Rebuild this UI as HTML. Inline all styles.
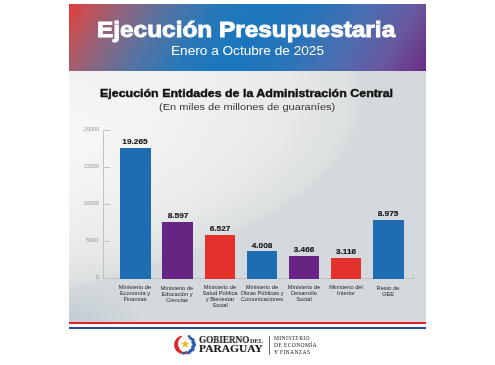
<!DOCTYPE html>
<html><head><meta charset="utf-8">
<style>
html,body{margin:0;padding:0;background:#fff;}
body{width:495px;height:365px;position:relative;overflow:hidden;font-family:"Liberation Sans",sans-serif;}
.abs{position:absolute;white-space:nowrap;}
#card{position:absolute;left:69px;top:4px;width:357px;height:318px;overflow:hidden;
  background:
   radial-gradient(ellipse 110px 70px at 0px 67px, rgba(0,0,0,0.028) 0%, rgba(0,0,0,0) 100%),
   radial-gradient(ellipse 75px 38px at 0px 318px, rgba(194,204,212,1) 0%, rgba(203,211,216,0.9) 55%, rgba(211,217,220,0) 100%),
   radial-gradient(ellipse 700px 234px at -405px 95px, #fbfbfb 50%, #f8f8f7 60%, #f3f3f2 70%, #eeeeed 80%, #e7e8e8 90%, #e0e3e3 95%, #dce0e1 98%, #d7dcde 99.5%, #d3d9dc 100%),
   #d3d9dc;
}
#hdr{position:absolute;left:0;top:0;width:357px;height:67px;background:linear-gradient(122deg,#e2383a 0%,#c64f53 5%,#996176 12.5%,#5673a2 25%,#2778b9 37.5%,#1a76bd 50%,#2874b9 62.5%,#496fb1 75%,#675aa0 87.5%,#6b3a8c 96%,#682a86 100%);}
.t{position:absolute;white-space:nowrap;line-height:1;}
.bar{position:absolute;bottom:40px;width:30px;}
.val{position:absolute;font-weight:bold;font-size:7.5px;color:#151515;text-align:center;width:40px;line-height:1;transform:scaleX(1.1);-webkit-text-stroke:0.15px #151515;}
.cat{position:absolute;font-size:5.4px;line-height:6px;color:#2a2a2a;text-align:center;width:60px;transform:scaleX(1.06);}
.yl{position:absolute;right:396.3px;font-size:5.1px;color:#959595;line-height:1;text-align:right;transform-origin:100% 50%;transform:scaleX(1.08);}
.t,.val,.cat,.yl{will-change:transform;}
</style></head>
<body>
<div id="card">
  <div id="hdr"></div>
</div>
<!-- header texts -->
<div class="t" id="title" style="left:97.3px;top:17.5px;font-size:22.7px;font-weight:bold;color:#fff;transform-origin:0 0;transform:scaleX(1.075);-webkit-text-stroke:0.9px #fff;">Ejecución Presupuestaria</div>
<div class="t" id="sub" style="left:171px;top:44.5px;font-size:12px;color:#fff;transform-origin:0 0;transform:scaleX(1.135);">Enero a Octubre de 2025</div>
<div class="t" id="ctitle" style="left:100px;top:89px;font-size:10.2px;font-weight:bold;color:#111;transform-origin:0 0;transform:scaleX(1.22);-webkit-text-stroke:0.4px #111;">Ejecución Entidades de la Administración Central</div>
<div class="t" id="csub" style="left:159px;top:103px;font-size:8.5px;color:#333;transform-origin:0 0;transform:scaleX(1.3);">(En miles de millones de guaraníes)</div>

<!-- axis -->
<div class="abs" style="left:103px;top:130px;width:1px;height:149px;background:#c2c2c2;"></div>
<div class="abs" style="left:103px;top:278px;width:311px;height:1px;background:#c2c2c2;"></div>
<div class="abs" style="left:413px;top:275px;width:1px;height:4px;background:#c2c2c2;"></div>
<div class="abs" style="left:103px;top:130px;width:7px;height:1px;background:#c2c2c2;"></div>
<div class="abs" style="left:103px;top:167px;width:7px;height:1px;background:#c2c2c2;"></div>
<div class="abs" style="left:103px;top:204px;width:7px;height:1px;background:#c2c2c2;"></div>
<div class="abs" style="left:103px;top:241px;width:7px;height:1px;background:#c2c2c2;"></div>

<div class="yl" style="top:127px;">20000</div>
<div class="yl" style="top:164px;">15000</div>
<div class="yl" style="top:201px;">10000</div>
<div class="yl" style="top:238px;">5000</div>
<div class="yl" style="top:275px;">0</div>

<!-- bars -->
<div class="abs" style="left:120px;top:148px;width:31px;height:131px;background:#1e6cb2;"></div>
<div class="abs" style="left:162px;top:222px;width:30.5px;height:57px;background:#662583;"></div>
<div class="abs" style="left:205px;top:235px;width:30px;height:44px;background:#e3322b;"></div>
<div class="abs" style="left:247px;top:251px;width:30px;height:28px;background:#1e6cb2;"></div>
<div class="abs" style="left:289px;top:256px;width:30px;height:23px;background:#662583;"></div>
<div class="abs" style="left:331px;top:258px;width:30px;height:21px;background:#e3322b;"></div>
<div class="abs" style="left:373px;top:220px;width:31px;height:59px;background:#1e6cb2;"></div>

<div class="val" style="left:115px;top:138px;">19.265</div>
<div class="val" style="left:157.5px;top:212px;">8.597</div>
<div class="val" style="left:200px;top:225px;">6.527</div>
<div class="val" style="left:242px;top:242px;">4.008</div>
<div class="val" style="left:284px;top:246px;">3.466</div>
<div class="val" style="left:326px;top:248px;">3.116</div>
<div class="val" style="left:368px;top:210px;">8.975</div>

<div class="cat" style="left:105px;top:284px;">Ministerio de<br>Economía y<br>Finanzas</div>
<div class="cat" style="left:147px;top:285px;">Ministerio de<br>Educación y<br>Ciencias</div>
<div class="cat" style="left:190px;top:284px;">Ministerio de<br>Salud Pública<br>y Bienestar<br>Social</div>
<div class="cat" style="left:232px;top:284px;">Ministerio de<br>Obras Públicas y<br>Comunicaciones</div>
<div class="cat" style="left:274px;top:284px;">Ministerio de<br>Desarrollo<br>Social</div>
<div class="cat" style="left:316px;top:284px;">Ministerio del<br>Interior</div>
<div class="cat" style="left:358px;top:285px;">Resto de<br>OEE</div>

<!-- stripes -->
<div class="abs" style="left:69px;top:322px;width:357px;height:2px;background:#e11f26;"></div>
<div class="abs" style="left:69px;top:327px;width:357px;height:2px;background:#234b9c;"></div>

<!-- footer logo -->
<svg class="abs" style="left:172px;top:332px;" width="28" height="26" viewBox="0 0 28 26">
  <path d="M9.92,3.39 L9.29,3.95 L8.33,3.85 L7.78,4.51 L6.79,4.58 L6.34,5.33 L5.36,5.59 L5.04,6.43 L4.11,6.87 L3.93,7.78 L3.11,8.39 L3.09,9.34 L2.39,10.10 L2.56,11.06 L2.02,11.94 L2.37,12.87 L2.02,13.84 L2.55,14.70 L2.39,15.70 L3.09,16.45 L3.13,17.46 L3.96,18.06 L4.20,19.02 L5.16,19.43 L5.58,20.29 L6.60,20.50 L7.15,21.26 L8.17,21.28 L8.83,21.92 L9.83,21.76 L10.56,22.27 L11.49,21.94 L12.27,22.32 L13.12,21.85 L13.94,22.11 L14.67,21.51 L15.51,21.65 L15.24,20.59 L14.53,20.66 L13.83,20.66 L13.13,20.59 L12.45,20.46 L11.79,20.27 L11.16,20.02 L10.56,19.72 L10.00,19.37 L9.47,18.99 L8.99,18.56 L8.55,18.11 L8.15,17.63 L7.79,17.13 L7.48,16.61 L7.19,16.09 L6.92,15.55 L6.70,15.01 L6.51,14.45 L6.35,13.88 L6.23,13.30 L6.15,12.71 L6.11,12.11 L6.11,11.51 L6.15,10.90 L6.23,10.29 L6.36,9.68 L6.54,9.08 L6.76,8.48 L7.03,7.89 L7.35,7.32 L7.72,6.76 L8.15,6.23 L8.62,5.74 L9.14,5.28 L9.71,4.87 L10.33,4.50Z" fill="#e2262b"/>
  <g fill="#2c5bb0"><circle cx="17.15" cy="4.31" r="1.42"/><circle cx="18.80" cy="6.27" r="1.62"/><circle cx="20.90" cy="7.74" r="1.77"/><circle cx="21.22" cy="10.28" r="1.87"/><circle cx="22.20" cy="12.65" r="1.93"/><circle cx="21.09" cy="14.96" r="1.95"/><circle cx="20.63" cy="17.48" r="1.93"/><circle cx="18.45" cy="18.83" r="1.87"/><circle cx="16.69" cy="20.70" r="1.77"/><circle cx="14.13" cy="20.65" r="1.62"/><circle cx="11.64" cy="21.26" r="1.42"/></g>
  <path d="M10.3,21.7 L13.3,20.5" stroke="#2c5bb0" stroke-width="0.9" fill="none"/>
  <path d="M12.3,20.2 L16.4,21.6" stroke="#e2262b" stroke-width="0.9" fill="none"/>
  <polygon points="13.20,7.80 14.29,10.70 17.38,10.84 14.96,12.77 15.79,15.76 13.20,14.05 10.61,15.76 11.44,12.77 9.02,10.84 12.11,10.70" fill="#f2b81c"/>
</svg>
<div class="t" id="gob" style="left:199px;top:334.8px;font-family:'Liberation Serif',serif;font-weight:bold;font-size:9.9px;color:#1c1c1c;transform-origin:0 0;transform:scaleX(0.925);-webkit-text-stroke:0.15px #1c1c1c;">GOBIERNO</div>
<div class="t" id="del" style="left:250px;top:338.8px;font-family:'Liberation Serif',serif;font-weight:bold;font-size:5.2px;color:#1c1c1c;transform-origin:0 0;transform:scaleX(1.2);">DEL</div>
<div class="t" id="par" style="left:199px;top:343.6px;font-family:'Liberation Serif',serif;font-weight:bold;font-size:10.4px;color:#1c1c1c;transform-origin:0 0;transform:scaleX(1.105);-webkit-text-stroke:0.15px #1c1c1c;">PARAGUAY</div>
<div class="abs" style="left:269px;top:335.5px;width:1px;height:19px;background:#6a6a6a;"></div>
<div class="t" style="left:274px;top:335.4px;font-family:'Liberation Serif',serif;font-size:5.6px;line-height:6.8px;color:#222;letter-spacing:0.35px;">MINISTERIO<br>DE ECONOMÍA<br>Y FINANZAS</div>
</body></html>
